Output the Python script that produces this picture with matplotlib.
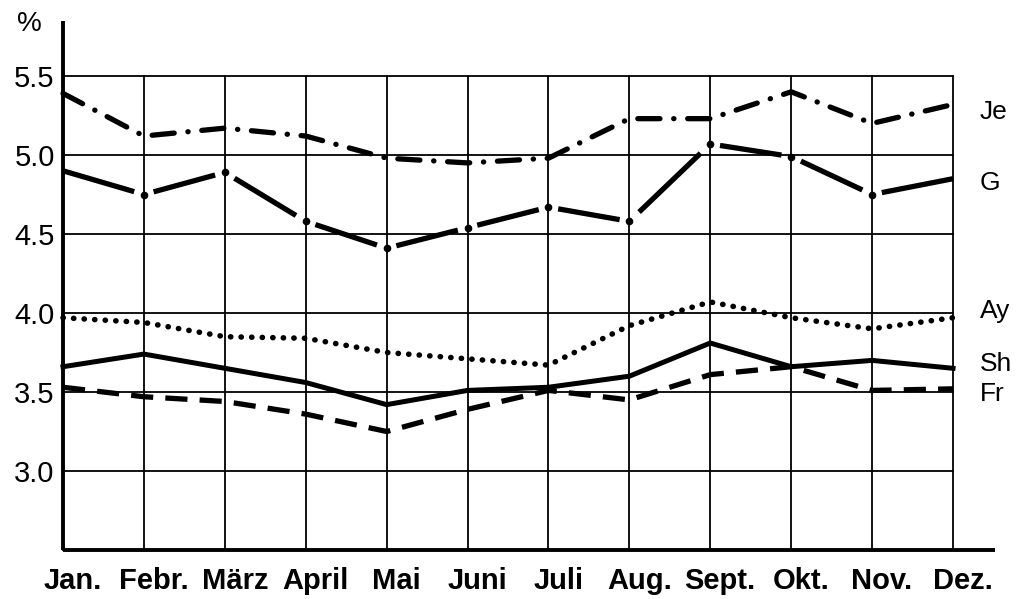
import matplotlib as mpl
mpl.use('Agg')
import matplotlib.pyplot as plt
from matplotlib import font_manager
from matplotlib.transforms import ScaledTranslation
import numpy as np

months = ['Jan.', 'Febr.', 'März', 'April', 'Mai', 'Juni',
          'Juli', 'Aug.', 'Sept.', 'Okt.', 'Nov.', 'Dez.']
je = [5.39, 5.12, 5.17, 5.12, 4.98, 4.95, 4.98, 5.23, 5.23, 5.40, 5.20, 5.32]
g = [4.90, 4.75, 4.89, 4.58, 4.41, 4.54, 4.67, 4.58, 5.07, 4.99, 4.75, 4.85]
ay = [3.97, 3.94, 3.85, 3.84, 3.75, 3.71, 3.67, 3.92, 4.07, 3.97, 3.90, 3.97]
sh = [3.66, 3.74, 3.65, 3.56, 3.42, 3.51, 3.53, 3.60, 3.81, 3.66, 3.70, 3.65]
fr = [3.53, 3.47, 3.44, 3.36, 3.25, 3.39, 3.51, 3.45, 3.61, 3.66, 3.51, 3.52]
yticks = [3.0, 3.5, 4.0, 4.5, 5.0, 5.5]
names = ['Je', 'G', 'Ay', 'Sh', 'Fr']
name_y = [5.27, 4.82, 4.01, 3.68, 3.49]

installed = {f.name for f in font_manager.fontManager.ttflist}
base = 'Liberation Sans' if 'Liberation Sans' in installed else 'DejaVu Sans'
narrow = 'Liberation Sans Narrow' if 'Liberation Sans Narrow' in installed else base
plt.rcParams['font.family'] = [base, 'DejaVu Sans']

x = np.arange(len(months))

fig = plt.figure(figsize=(10.22, 5.99), dpi=100)
ax = fig.add_axes([63/1022, 49/599, 890/1022, 474/599])
ax.set_xlim(0, 11)
ax.set_ylim(2.5, 5.5)

# grid
ax.set_xticks(x)
ax.set_yticks(yticks)
ax.grid(True, color='black', lw=1.3)
for l in ax.get_xgridlines() + ax.get_ygridlines():
    l.set_clip_on(False)
for s in ax.spines.values():
    s.set_visible(False)

# axes lines, a bit longer than the box
ax.plot([0, 0], [0, 1.115], transform=ax.transAxes, color='black', lw=2.8,
        clip_on=False, solid_capstyle='butt')
ax.plot([0, 1.047], [0, 0], transform=ax.transAxes, color='black', lw=2.8,
        clip_on=False, solid_capstyle='butt')

# series
ax.plot(x, je, color='black', lw=3.8, linestyle=(0, (4.2, 2.6, 0.05, 2.6)),
        dash_capstyle='round', clip_on=False)
# G: one long dash per month step, dot at each month
gx = np.array(x, dtype=float)
gy = np.array(g)
for i in range(len(gx) - 1):
    t0 = 0.0 if i == 0 else 0.12
    t1 = 1.0 if i == len(gx) - 2 else 0.88
    ax.plot([gx[i] + t0*(gx[i+1]-gx[i]), gx[i] + t1*(gx[i+1]-gx[i])],
            [gy[i] + t0*(gy[i+1]-gy[i]), gy[i] + t1*(gy[i+1]-gy[i])],
            color='black', lw=3.8, solid_capstyle='butt', clip_on=False)
ax.plot(gx[1:-1], gy[1:-1], 'o', color='black', ms=4.5, clip_on=False)
ax.plot(x, ay, color='black', lw=4.0, linestyle=(0, (0.05, 1.85)),
        dash_capstyle='round', clip_on=False)
ax.plot(x, sh, color='black', lw=3.6, clip_on=False)
ax.plot(x, fr, color='black', lw=3.8, linestyle=(0, (4.2, 2.3)),
        dash_capstyle='butt', clip_on=False)

# labels
ax.tick_params(length=0)
ax.tick_params(axis='y', pad=6, labelsize=21)
ax.set_yticklabels([f'{v:.1f}' for v in yticks])
ax.set_xticklabels(months, fontsize=21, family=[narrow, 'DejaVu Sans'],
                   fontweight='bold')
ax.tick_params(axis='x', pad=12)
for lab in ax.get_xticklabels():
    lab.set_transform(lab.get_transform() +
                      ScaledTranslation(0.1, 0, fig.dpi_scale_trans))

for n, v in zip(names, name_y):
    ax.text(11.33, v, n, ha='left', va='center', fontsize=19, clip_on=False)

fig.text(29/1022, 1 - 24/599, '%', ha='center', va='center', fontsize=20)

fig.savefig('out.png', dpi=100)
